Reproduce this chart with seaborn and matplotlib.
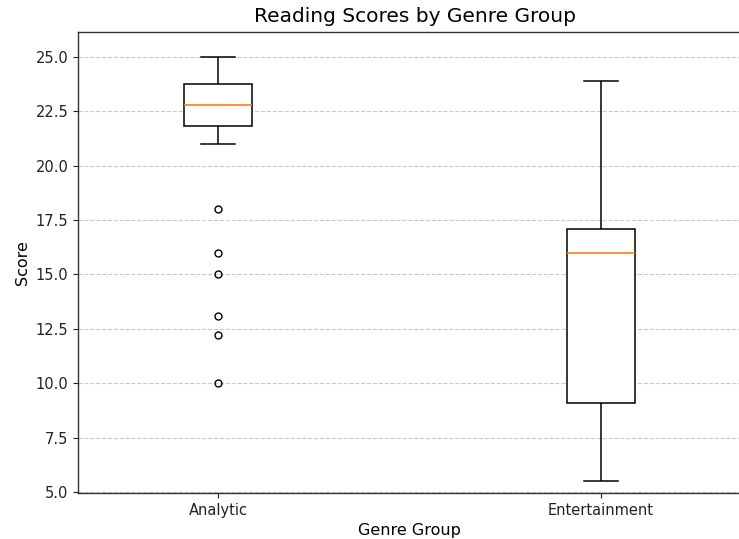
import matplotlib
matplotlib.use("Agg")
import matplotlib.pyplot as plt
import seaborn as sns
import pandas as pd

# Reading scores for each genre group
genres = ["Analytic", "Entertainment"]
analytic_scores = [10.0, 12.2, 13.1, 15.0, 16.0, 18.0, 21.0, 21.85, 22.0, 22.1,
                   22.3, 22.4, 22.5, 22.7, 22.8, 22.9, 23.0, 23.2, 23.3, 23.5,
                   23.6, 23.75, 23.9, 24.1, 24.3, 24.5, 24.7, 24.9, 25.0]
entertainment_scores = [5.5, 6.8, 8.0, 9.1, 11.0, 13.5, 16.0, 16.4, 16.8, 17.1,
                        19.0, 21.5, 23.9]
y_ticks = [5.0, 7.5, 10.0, 12.5, 15.0, 17.5, 20.0, 22.5, 25.0]

df = pd.DataFrame({
    "Genre Group": [genres[0]] * len(analytic_scores) + [genres[1]] * len(entertainment_scores),
    "Score": analytic_scores + entertainment_scores,
})

W, H = 739, 539
fig = plt.figure(figsize=(W / 100, H / 100), dpi=100)
left, right, top, bottom = 78, 741, 32, 493
ax = fig.add_axes([left / W, 1 - bottom / H, (right - left) / W, (bottom - top) / H])

sns.boxplot(
    data=df, x="Genre Group", y="Score", order=genres, ax=ax,
    color="white", linecolor="black", linewidth=1.1, width=0.18,
    medianprops=dict(color="#ff7f0e", linewidth=1.2),
    flierprops=dict(marker="o", markerfacecolor="none", markeredgecolor="black",
                    markersize=5, markeredgewidth=1.0),
)

ax.set_xlim(-0.3655, 1.3655)
ax.set_ylim(4.95, 26.15)
ax.set_yticks(y_ticks)
ax.set_yticklabels([f"{t:.1f}" for t in y_ticks])
ax.yaxis.grid(True, linestyle="--", color="#bbbbbb", linewidth=0.8, alpha=0.8)
ax.xaxis.grid(False)
ax.set_axisbelow(True)
for s in ax.spines.values():
    s.set_color("#333333")
    s.set_linewidth(1.0)
ax.tick_params(labelsize=10.5, colors="#222222")

ax.set_title("Reading Scores by Genre Group", fontsize=14.5, pad=7, x=0.509)
ax.set_xlabel("Genre Group", fontsize=11.5)
ax.set_ylabel("Score", fontsize=11.5)

fig.savefig("out.png", dpi=100)
